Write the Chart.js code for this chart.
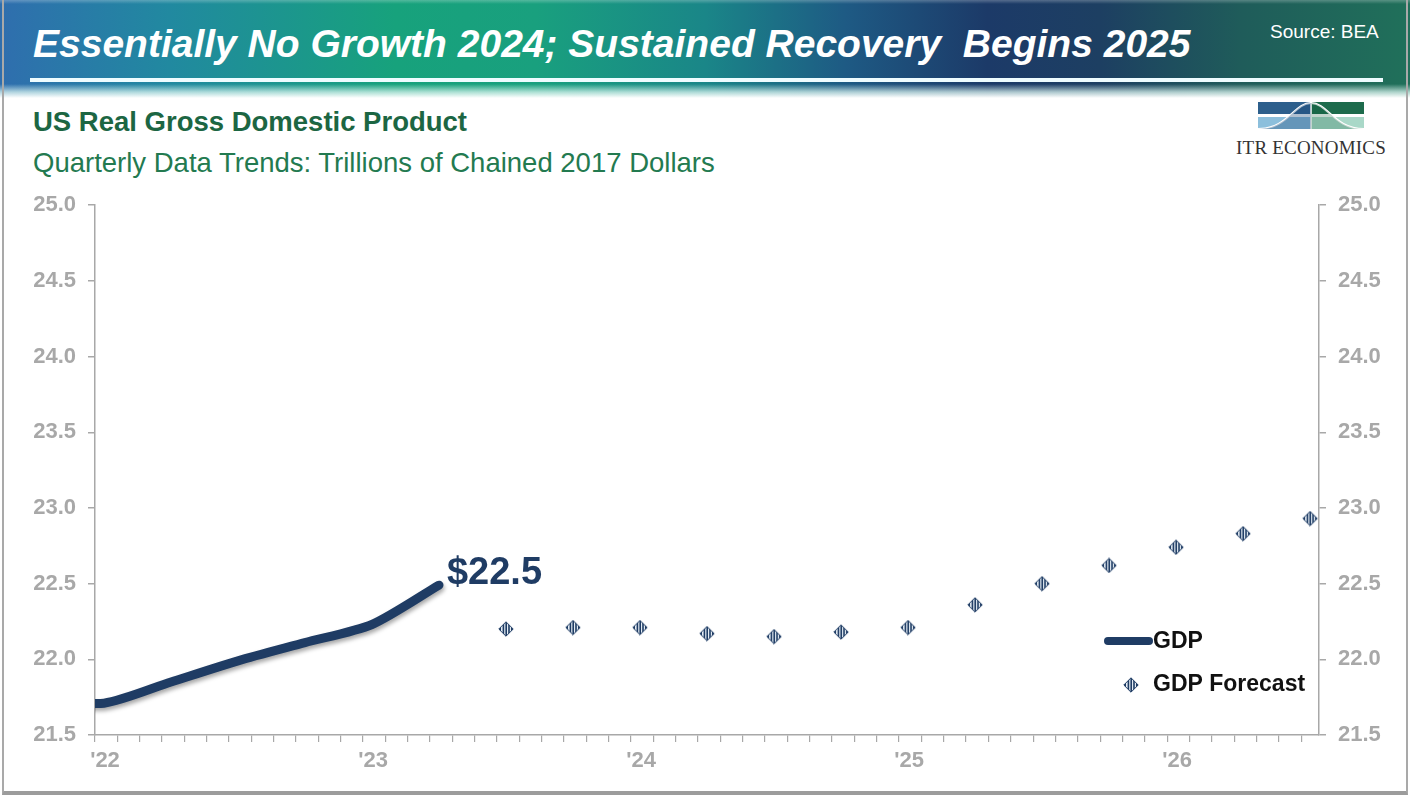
<!DOCTYPE html>
<html>
<head>
<meta charset="utf-8">
<script src="https://cdn.jsdelivr.net/npm/chart.js@4.4.1/dist/chart.umd.min.js"></script>
<style>
  html, body { margin: 0; padding: 0; background: #fff; }
  body { width: 1410px; height: 797px; overflow: hidden; position: relative; font-family: "Liberation Sans", Arial, sans-serif; }
  .frame { position: absolute; left: 2px; top: 0; width: 1402px; height: 791px; border: 2px solid #a9a9a9; border-top: none; border-bottom: 4px solid #9c9c9c; }
  .header {
    position: absolute; left: 0; top: 0; width: 1410px; height: 98px;
    background: linear-gradient(90deg, #2f6eae 0%, #2189a0 12%, #17a27c 28%, #19a07e 38%, #1a8688 50%, #1e5a84 60%, #1c3a68 70%, #1d3f62 78%, #1f5c5a 88%, #20705a 100%);
  }
  .header::after {
    content: ""; position: absolute; left: 0; right: 0; top: 0; bottom: 0;
    background: linear-gradient(180deg, rgba(255,255,255,0.25) 0px, rgba(255,255,255,0) 4px, rgba(255,255,255,0) 84px, rgba(220,245,240,0.75) 92px, #fff 98px);
  }
  .rule { position: absolute; left: 30px; top: 78px; width: 1353px; height: 4px; background: #eefcff; z-index: 2; }
  .title { position: absolute; left: 33px; top: 22px; color: #fff; font-weight: bold; font-style: italic; font-size: 39px; white-space: pre; z-index: 2; }
  .source { position: absolute; left: 1270px; top: 21px; color: #fff; font-size: 19px; z-index: 2; }
  .sub1 { position: absolute; left: 33px; top: 106px; color: #1c6643; font-weight: bold; font-size: 27.5px; }
  .sub2 { position: absolute; left: 33px; top: 147px; color: #237a50; font-size: 27.5px; }
  .logo { position: absolute; left: 1236px; top: 100px; width: 150px; }
  .logo .name { font-family: "Liberation Serif", "Times New Roman", serif; font-size: 19px; color: #333; text-align: center; margin-top: 1px; letter-spacing: 0.2px; }
  #wrap { position: absolute; left: 0; top: 180px; width: 1410px; height: 610px; }
</style>
</head>
<body>
<div class="header"></div>
<div class="rule"></div>
<div class="title">Essentially No Growth 2024; Sustained Recovery  Begins 2025</div>
<div class="source">Source: BEA</div>
<div class="sub1">US Real Gross Domestic Product</div>
<div class="sub2">Quarterly Data Trends: Trillions of Chained 2017 Dollars</div>
<div class="logo">
  <svg width="150" height="32" viewBox="0 0 150 32">
    <rect x="22" y="2" width="52" height="12" fill="#2d5f8c"/>
    <rect x="76" y="2" width="52" height="12" fill="#1d6b4c"/>
    <rect x="22" y="17" width="52" height="12" fill="#8cbfdc"/>
    <rect x="76" y="17" width="52" height="12" fill="#a9d8c8"/>
    <path d="M22 29 C52 29 58 3 75 3 C92 3 98 29 128 29" fill="none" stroke="#fff" stroke-width="2"/>
    <path d="M22 29 C52 29 58 3 75 3 L75 29 Z" fill="#1d4a78" opacity="0.35"/>
    <path d="M75 3 C92 3 98 29 128 29 L75 29 Z" fill="#0f5a3a" opacity="0.25"/>
  </svg>
  <div class="name">ITR ECONOMICS</div>
</div>
<div class="frame"></div>
<div id="wrap"><canvas id="gdpChart"></canvas></div>

<script>
// Real GDP, trillions of chained 2017 dollars (BEA), Q1 2022 - Q3 2023
const gdpQuarters = ['2022Q1', '2022Q2', '2022Q3', '2022Q4', '2023Q1', '2023Q2', '2023Q3'];
const gdpValues = [21.74, 21.71, 21.85, 21.99, 22.11, 22.23, 22.49];

// ITR forecast, Q4 2023 - Q4 2026
const forecastQuarters = ['2023Q4',
  '2024Q1', '2024Q2', '2024Q3', '2024Q4',
  '2025Q1', '2025Q2', '2025Q3', '2025Q4',
  '2026Q1', '2026Q2', '2026Q3', '2026Q4'];
const forecastValues = [22.20, 22.21, 22.21, 22.17, 22.15, 22.18, 22.21, 22.36, 22.50, 22.62, 22.74, 22.83, 22.93];

// axis: months counted from Jan 2022
const yearTicks = [0, 12, 24, 36, 48];
const yearLabels = ["'22", "'23", "'24", "'25", "'26"];
const yTicks = [21.5, 22.0, 22.5, 23.0, 23.5, 24.0, 24.5, 25.0];

const NAVY = '#1f3c64';
const GRAY = '#a8a8a8';

// quarters sit on the month axis a little ahead of the quarter start
function quarterToMonth(q) {
  const year = parseInt(q.slice(0, 4), 10);
  const qn = parseInt(q.slice(5), 10);
  return (year - 2022) * 12 + (qn - 1) * 3 - 2.6;
}

function makeDiamond() {
  const c = document.createElement('canvas');
  c.width = 16; c.height = 16;
  const g = c.getContext('2d');
  g.beginPath();
  g.moveTo(8, 0.8); g.lineTo(15.2, 8); g.lineTo(8, 15.2); g.lineTo(0.8, 8);
  g.closePath();
  g.fillStyle = '#e4ecf4';
  g.fill();
  g.save();
  g.clip();
  g.fillStyle = NAVY;
  [0, 4.6, 7.4, 10.2, 13].forEach(x => g.fillRect(x, 0, x === 0 || x === 13 ? 3 : 1.6, 16));
  g.restore();
  g.strokeStyle = NAVY;
  g.lineWidth = 1;
  g.stroke();
  return c;
}
const diamond = makeDiamond();

// soft shadow under the actual GDP line
const lineShadow = {
  id: 'lineShadow',
  beforeDatasetDraw(chart, args) {
    if (args.index !== 0) return;
    const ctx = chart.ctx;
    ctx.save();
    ctx.shadowColor = 'rgba(0,0,0,0.35)';
    ctx.shadowBlur = 4;
    ctx.shadowOffsetX = 1;
    ctx.shadowOffsetY = 3;
  },
  afterDatasetDraw(chart, args) {
    if (args.index !== 0) return;
    chart.ctx.restore();
  }
};

// latest value callout and in-plot legend
const extras = {
  id: 'extras',
  afterDatasetsDraw(chart) {
    const ctx = chart.ctx;
    const area = chart.chartArea;
    const meta = chart.getDatasetMeta(0);
    const last = meta.data[meta.data.length - 1];
    const val = gdpValues[gdpValues.length - 1];
    ctx.save();
    ctx.fillStyle = NAVY;
    ctx.font = 'bold 38px "Liberation Sans", Arial, sans-serif';
    ctx.textBaseline = 'middle';
    ctx.textAlign = 'left';
    ctx.fillText('$' + val.toFixed(1), last.x + 8, last.y - 12);

    // legend
    const lx = area.right - 211;
    const y1 = area.bottom - 94;
    const y2 = area.bottom - 50;
    ctx.strokeStyle = NAVY;
    ctx.lineWidth = 8;
    ctx.lineCap = 'round';
    ctx.beginPath();
    ctx.moveTo(lx, y1);
    ctx.lineTo(lx + 41, y1);
    ctx.stroke();
    ctx.drawImage(diamond, lx + 23 - 8, y2 - 8);
    ctx.fillStyle = '#111';
    ctx.font = 'bold 23px "Liberation Sans", Arial, sans-serif';
    ctx.fillText(chart.data.datasets[0].label, lx + 45, y1 + 1);
    ctx.fillText(chart.data.datasets[1].label, lx + 45, y2);
    ctx.restore();
  }
};

const tickFont = { family: '"Liberation Sans", Arial, sans-serif', size: 22, weight: 'bold' };

function yAxis(position) {
  return {
    type: 'linear',
    position: position,
    min: yTicks[0],
    max: yTicks[yTicks.length - 1],
    afterBuildTicks: s => { s.ticks = yTicks.map(v => ({ value: v })); },
    ticks: { color: GRAY, font: tickFont, padding: 12, callback: v => v.toFixed(1) },
    grid: { drawOnChartArea: false, drawTicks: true, tickLength: 7, color: GRAY, lineWidth: 1.5 },
    border: { color: GRAY, width: 1.5 },
    afterFit: s => { s.width = position === 'left' ? 95 : 91; }
  };
}

new Chart(document.getElementById('gdpChart'), {
  type: 'line',
  data: {
    datasets: [{
      label: 'GDP',
      data: gdpQuarters.map((q, i) => ({ x: quarterToMonth(q), y: gdpValues[i] })),
      borderColor: NAVY,
      borderWidth: 9,
      borderCapStyle: 'round',
      borderJoinStyle: 'round',
      tension: 0.25,
      pointRadius: 0,
      clip: 0,
      yAxisID: 'y'
    }, {
      label: 'GDP Forecast',
      data: forecastQuarters.map((q, i) => ({ x: quarterToMonth(q), y: forecastValues[i] })),
      showLine: false,
      pointStyle: diamond,
      pointRadius: 8,
      clip: false,
      yAxisID: 'y'
    }]
  },
  options: {
    responsive: true,
    maintainAspectRatio: false,
    animation: false,
    layout: { padding: { top: 24, left: 0, right: 0, bottom: 0 } },
    plugins: { legend: { display: false }, tooltip: { enabled: false } },
    scales: {
      x: {
        type: 'linear',
        min: 0,
        max: 54.8,
        afterBuildTicks: s => {
          const t = [];
          for (let m = 0; m <= 54; m++) t.push({ value: m });
          s.ticks = t;
        },
        ticks: {
          autoSkip: false,
          maxRotation: 0,
          color: GRAY,
          font: tickFont,
          padding: 6,
          labelOffset: 10,
          callback: v => {
            const i = yearTicks.indexOf(v);
            return i >= 0 ? yearLabels[i] : '';
          }
        },
        grid: { drawOnChartArea: false, drawTicks: true, tickLength: 7, color: GRAY, lineWidth: 1.2 },
        border: { color: GRAY, width: 1.5 },
        afterFit: s => { s.height = 55; }
      },
      y: yAxis('left'),
      y2: yAxis('right')
    }
  },
  plugins: [lineShadow, extras]
});
</script>
</body>
</html>
